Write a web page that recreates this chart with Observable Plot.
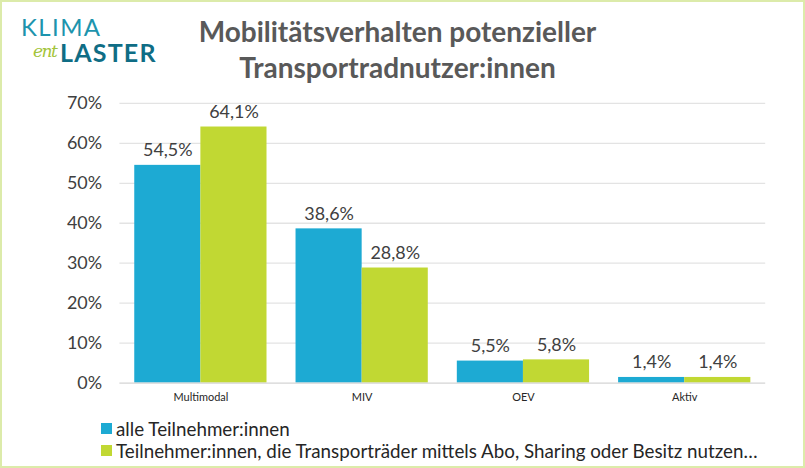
<!DOCTYPE html>
<html>
<head>
<meta charset="utf-8">
<script src="https://cdn.jsdelivr.net/npm/d3@7"></script>
<script src="https://cdn.jsdelivr.net/npm/@observablehq/plot@0.6"></script>
<style>
  body { margin: 0; background: #fff; }
  #wrap { position: relative; width: 805px; height: 468px; box-sizing: border-box; border: 2px solid #dcebaa; font-family: Lato, "Open Sans", sans-serif; overflow: hidden; }
  #logo { position: absolute; left: 18px; top: 13px; width: 150px; height: 52px; }
  #logo span { position: absolute; display: block; line-height: 1; }
  .k1 { left: 1px; top: 0; font-size: 24px; color: #1d94ad; letter-spacing: 1.4px; font-weight: 400; }
  .k2 { left: 13px; top: 28px; font-size: 17px; color: #a3c43a; font-style: italic; font-family: "DejaVu Serif", serif; letter-spacing: -1.5px; }
  .k3 { left: 40px; top: 25px; font-size: 25px; color: #0f6d85; font-weight: 700; letter-spacing: 1.2px; }
  #title { position: absolute; left: -7px; width: 805px; top: 11px; text-align: center; font-size: 28px; font-weight: 700; color: #595959; line-height: 36px; }
  .layer { position: absolute; left: 0; top: 90px; }
  #legend { position: absolute; left: 99px; top: 416px; font-size: 18.8px; color: #262626; }
  .li { display: flex; align-items: center; height: 21.5px; }
  .sw { width: 11px; height: 11px; margin-right: 4px; }
</style>
</head>
<body>
<div id="wrap">
  <div id="logo"><span class="k1">KLIMA</span><span class="k3">LASTER</span><span class="k2">ent</span></div>
  <div id="title">Mobilitätsverhalten potenzieller<br>Transportradnutzer:innen</div>
  <div id="under" class="layer"></div>
  <div id="over" class="layer"></div>
  <div id="legend"></div>
</div>
<script>
const categories = ["Multimodal", "MIV", "OEV", "Aktiv"];
const seriesNames = ["alle Teilnehmer:innen", "Teilnehmer:innen, die Transporträder mittels Abo, Sharing oder Besitz nutzen…"];
const allValues = [54.5, 38.6, 5.5, 1.4];
const userValues = [64.1, 28.8, 5.8, 1.4];
const colors = ["#1daad3", "#c1d833"];
const yTicks = [0, 10, 20, 30, 40, 50, 60, 70];

const data = [];
categories.forEach((c, i) => {
  data.push({cat: c, series: seriesNames[0], value: allValues[i]});
  data.push({cat: c, series: seriesNames[1], value: userValues[i]});
});
const fmt = v => v.toFixed(1).replace(".", ",") + "%";

const common = {
  width: 805,
  height: 320,
  marginLeft: 118,
  marginRight: 38,
  marginTop: 11,
  marginBottom: 28,
  style: {fontFamily: "Lato, 'Open Sans', sans-serif", background: "transparent", overflow: "visible"},
  y: {domain: [0, 70], label: null}
};

// underlay: y axis and gridlines spanning the full frame
const under = Plot.plot({
  ...common,
  x: {domain: categories, axis: null},
  marks: [
    Plot.ruleY(yTicks.slice(1), {stroke: "#e3e3e3", strokeWidth: 1.3}),
    Plot.axisY(yTicks, {tickSize: 0, tickPadding: 18, tickFormat: d => d + "%", fontSize: 18, fill: "#404040", label: null})
  ]
});
document.getElementById("under").appendChild(under);

// overlay: grouped bars and value labels
const over = Plot.plot({
  ...common,
  fx: {domain: categories, paddingInner: 0.18, paddingOuter: 0.092, round: false, label: null},
  x: {domain: seriesNames, padding: 0, round: false, axis: null},
  color: {domain: seriesNames, range: colors},
  marks: [
    Plot.axisY({ticks: [], tickSize: 0, label: null}),
    Plot.axisFx({anchor: "bottom", tickSize: 0, tickPadding: 10, fontSize: 11, fill: "#262626", label: null}),
    Plot.barY(data, {fx: "cat", x: "series", y: "value", fill: "series"}),
    Plot.text(data, {fx: "cat", x: "series", y: "value", text: d => fmt(d.value), dy: -15, fontSize: 18, fill: "#404040"})
  ]
});
document.getElementById("over").appendChild(over);

// baseline on top of bars, full width
const base = Plot.plot({
  ...common,
  x: {domain: categories, axis: null},
  marks: [
    Plot.axisY({ticks: [], tickSize: 0, label: null}),
    Plot.ruleY([0], {stroke: "#d4d4d4", strokeWidth: 1.3})
  ]
});
const baseDiv = document.createElement("div");
baseDiv.className = "layer";
baseDiv.appendChild(base);
document.getElementById("wrap").appendChild(baseDiv);

const legend = document.getElementById("legend");
seriesNames.forEach((s, i) => {
  const row = document.createElement("div");
  row.className = "li";
  const sw = document.createElement("span");
  sw.className = "sw";
  sw.style.background = colors[i];
  const t = document.createElement("span");
  t.textContent = s;
  row.appendChild(sw);
  row.appendChild(t);
  legend.appendChild(row);
});
</script>
</body>
</html>
